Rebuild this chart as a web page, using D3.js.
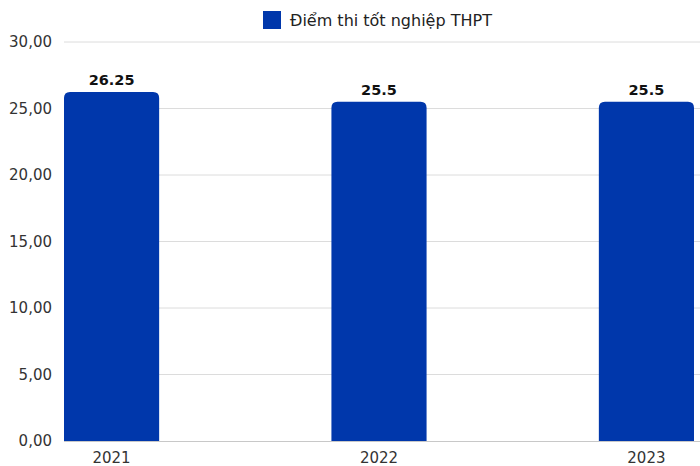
<!DOCTYPE html>
<html><head><meta charset="utf-8">
<script src="https://cdn.jsdelivr.net/npm/d3@7"></script>
<style>body{margin:0;background:#fff;}svg{display:block;font-family:"DejaVu Sans",sans-serif;}</style>
</head><body><svg id="c" width="700" height="466"></svg>
<script>
const categories = ["2021","2022","2023"];
const values = [26.25, 25.5, 25.5];
const valueLabels = ["26.25","25.5","25.5"];
const yTicks = [0,5,10,15,20,25,30];
const seriesName = "Điểm thi tốt nghiệp THPT";

const svg = d3.select("#c");
const color = "#0037ab";
const x = d3.scaleBand().domain(categories).range([64, 694]).paddingInner(1 - 95/267).paddingOuter(0);
const y = d3.scaleLinear().domain([0, 30]).range([441, 42]);

svg.append("g").selectAll("line").data(yTicks.filter(d=>d>0)).join("line")
  .attr("x1", 64).attr("x2", 700).attr("y1", d=>y(d)).attr("y2", d=>y(d))
  .attr("stroke", "#dcdcdc").attr("stroke-width", 1);

svg.append("g").selectAll("text").data(yTicks).join("text")
  .attr("x", 52).attr("y", d=>y(d)).attr("dy","0.35em").attr("text-anchor","end")
  .attr("font-size", 15).attr("fill", "#333")
  .text(d=>d.toFixed(2).replace(".", ","));

const r = 6;
svg.append("g").selectAll("path").data(values).join("path")
  .attr("fill", color)
  .attr("d", (d,i)=>{
    const x0 = x(categories[i]), w = x.bandwidth(), y0 = y(d), yb = y(0);
    return `M${x0},${yb}V${y0+r}Q${x0},${y0} ${x0+r},${y0}H${x0+w-r}Q${x0+w},${y0} ${x0+w},${y0+r}V${yb}Z`;
  });

svg.append("line").attr("x1",64).attr("x2",700).attr("y1",y(0)+0.5).attr("y2",y(0)+0.5).attr("stroke","#c8c8c8");

svg.append("g").selectAll("text").data(categories).join("text")
  .attr("x", d=>x(d)+x.bandwidth()/2).attr("y", 463).attr("text-anchor","middle")
  .attr("font-size", 15).attr("fill","#333").text(d=>d);

svg.append("g").selectAll("text").data(values).join("text")
  .attr("x", (d,i)=>x(categories[i])+x.bandwidth()/2).attr("y", d=>y(d)-7)
  .attr("text-anchor","middle").attr("font-size",14.5).attr("font-weight","bold").attr("fill","#111")
  .text((d,i)=>valueLabels[i]);

svg.append("rect").attr("x",263).attr("y",11).attr("width",18).attr("height",18).attr("fill",color);
svg.append("text").attr("x",290).attr("y",26).attr("font-size",16).attr("fill","#222").text(seriesName);
</script></body></html>
